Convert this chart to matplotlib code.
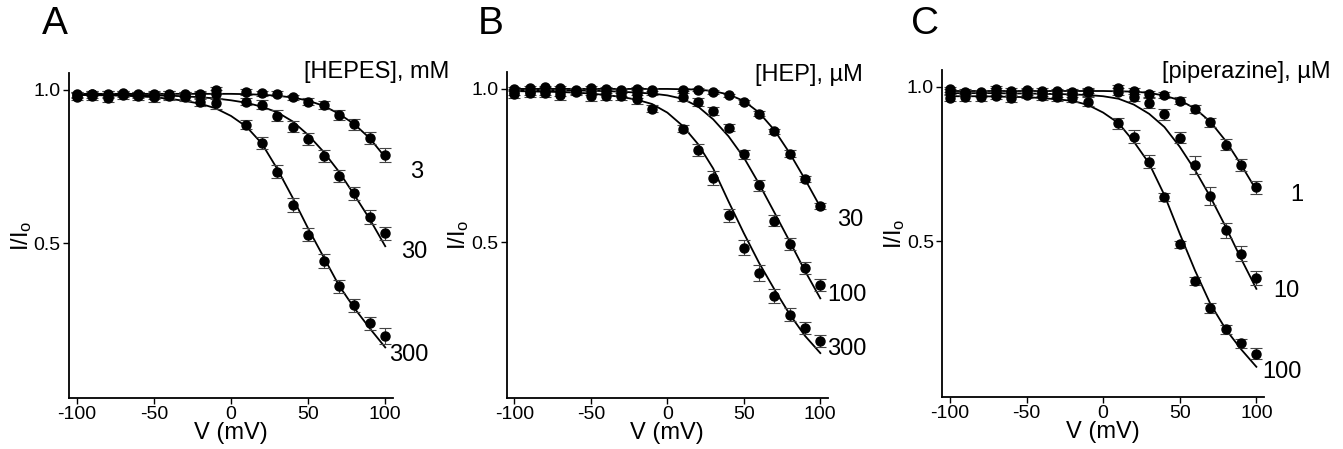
import matplotlib
matplotlib.use("Agg")
import matplotlib.pyplot as plt

plt.rcParams["font.family"] = ["Liberation Sans", "DejaVu Sans"]
plt.rcParams["mathtext.fontset"] = "custom"
plt.rcParams["mathtext.rm"] = "Liberation Sans"
plt.rcParams["mathtext.it"] = "Liberation Sans:italic"
plt.rcParams["axes.unicode_minus"] = False

# measured voltages (no point at 0 mV)
V = [-100, -90, -80, -70, -60, -50, -40, -30, -20, -10,
     10, 20, 30, 40, 50, 60, 70, 80, 90, 100]
# voltages of the fitted curves
V_fit = [-100, -90, -80, -70, -60, -50, -40, -30, -20, -10, 0,
         10, 20, 30, 40, 50, 60, 70, 80, 90, 100]

# panel A, [HEPES] mM
a_labels = ["3", "30", "300"]
a_y = [
    [0.985, 0.988, 0.987, 0.989, 0.985, 0.987, 0.988, 0.986, 0.985, 1.000,
     0.992, 0.989, 0.987, 0.976, 0.962, 0.951, 0.918, 0.888, 0.844, 0.788],
    [0.982, 0.985, 0.984, 0.986, 0.983, 0.982, 0.983, 0.980, 0.982, 0.985,
     0.962, 0.951, 0.916, 0.880, 0.839, 0.784, 0.719, 0.662, 0.586, 0.532],
    [0.978, 0.980, 0.975, 0.982, 0.980, 0.976, 0.979, 0.977, 0.962, 0.957,
     0.886, 0.826, 0.733, 0.624, 0.528, 0.442, 0.359, 0.297, 0.238, 0.197],
]
a_err = [
    [0.008, 0.008, 0.010, 0.008, 0.008, 0.010, 0.008, 0.008, 0.010, 0.010,
     0.010, 0.008, 0.008, 0.008, 0.010, 0.012, 0.015, 0.018, 0.020, 0.022],
    [0.010, 0.010, 0.012, 0.010, 0.010, 0.012, 0.012, 0.012, 0.012, 0.015,
     0.012, 0.015, 0.018, 0.018, 0.020, 0.020, 0.020, 0.022, 0.022, 0.022],
    [0.012, 0.012, 0.015, 0.012, 0.012, 0.015, 0.012, 0.012, 0.015, 0.018,
     0.015, 0.020, 0.022, 0.022, 0.022, 0.022, 0.020, 0.020, 0.020, 0.025],
]
a_fit = [
    [0.987, 0.987, 0.987, 0.987, 0.987, 0.987, 0.987, 0.987, 0.987, 0.987, 0.987,
     0.986, 0.984, 0.981, 0.975, 0.965, 0.948, 0.922, 0.888, 0.842, 0.780],
    [0.984, 0.984, 0.984, 0.983, 0.983, 0.982, 0.981, 0.979, 0.976, 0.972, 0.966,
     0.958, 0.945, 0.927, 0.897, 0.853, 0.798, 0.733, 0.657, 0.578, 0.490],
    [0.983, 0.983, 0.982, 0.981, 0.979, 0.976, 0.971, 0.964, 0.955, 0.940, 0.915,
     0.880, 0.825, 0.742, 0.648, 0.548, 0.455, 0.362, 0.288, 0.222, 0.160],
]

# panel B, [HEP] uM
b_labels = ["30", "100", "300"]
b_y = [
    [0.998, 1.003, 1.004, 1.003, 0.995, 1.002, 1.000, 0.997, 0.999, 0.997,
     0.997, 0.997, 0.989, 0.978, 0.956, 0.919, 0.862, 0.789, 0.706, 0.617],
    [0.990, 0.990, 0.992, 0.988, 0.992, 0.990, 0.990, 0.987, 0.983, 0.990,
     0.973, 0.956, 0.927, 0.873, 0.787, 0.685, 0.570, 0.494, 0.416, 0.362],
    [0.982, 0.985, 0.985, 0.979, 0.990, 0.976, 0.975, 0.975, 0.965, 0.935,
     0.870, 0.800, 0.710, 0.588, 0.483, 0.400, 0.325, 0.265, 0.222, 0.179],
]
b_err = [
    [0.006, 0.006, 0.006, 0.006, 0.006, 0.006, 0.006, 0.006, 0.006, 0.006,
     0.006, 0.006, 0.006, 0.006, 0.006, 0.008, 0.008, 0.010, 0.010, 0.010],
    [0.010, 0.010, 0.012, 0.012, 0.010, 0.012, 0.010, 0.010, 0.012, 0.010,
     0.012, 0.012, 0.012, 0.012, 0.015, 0.018, 0.018, 0.020, 0.020, 0.020],
    [0.012, 0.012, 0.012, 0.015, 0.010, 0.015, 0.012, 0.012, 0.015, 0.012,
     0.012, 0.020, 0.022, 0.022, 0.025, 0.025, 0.022, 0.020, 0.020, 0.020],
]
b_fit = [
    [0.999, 0.999, 0.999, 0.999, 0.999, 0.999, 0.999, 0.999, 0.999, 0.999, 0.999,
     0.998, 0.997, 0.992, 0.981, 0.960, 0.922, 0.865, 0.790, 0.705, 0.615],
    [0.995, 0.995, 0.995, 0.994, 0.994, 0.993, 0.992, 0.990, 0.987, 0.984, 0.978,
     0.967, 0.942, 0.900, 0.845, 0.776, 0.690, 0.597, 0.503, 0.407, 0.318],
    [0.992, 0.991, 0.990, 0.989, 0.987, 0.984, 0.979, 0.973, 0.964, 0.950, 0.922,
     0.879, 0.820, 0.740, 0.633, 0.530, 0.433, 0.347, 0.266, 0.196, 0.140],
]

# panel C, [piperazine] uM
c_labels = ["1", "10", "100"]
c_y = [
    [0.992, 0.985, 0.983, 0.995, 0.988, 0.990, 0.988, 0.987, 0.984, 0.988,
     0.997, 0.986, 0.978, 0.975, 0.956, 0.928, 0.885, 0.812, 0.747, 0.674],
    [0.985, 0.980, 0.978, 0.985, 0.980, 0.985, 0.980, 0.978, 0.978, 0.983,
     0.985, 0.969, 0.948, 0.912, 0.836, 0.747, 0.646, 0.535, 0.459, 0.381],
    [0.965, 0.968, 0.968, 0.972, 0.963, 0.975, 0.970, 0.968, 0.963, 0.952,
     0.883, 0.839, 0.758, 0.643, 0.489, 0.370, 0.283, 0.214, 0.168, 0.135],
]
c_err = [
    [0.008, 0.008, 0.008, 0.008, 0.008, 0.008, 0.008, 0.008, 0.008, 0.008,
     0.010, 0.010, 0.010, 0.010, 0.010, 0.012, 0.015, 0.018, 0.020, 0.022],
    [0.010, 0.010, 0.010, 0.012, 0.010, 0.010, 0.010, 0.010, 0.010, 0.012,
     0.012, 0.015, 0.015, 0.018, 0.018, 0.030, 0.030, 0.025, 0.025, 0.022],
    [0.012, 0.012, 0.012, 0.012, 0.012, 0.012, 0.012, 0.012, 0.012, 0.015,
     0.018, 0.020, 0.020, 0.012, 0.012, 0.012, 0.015, 0.015, 0.015, 0.018],
]
c_fit = [
    [0.987, 0.987, 0.987, 0.987, 0.987, 0.987, 0.987, 0.987, 0.987, 0.987, 0.987,
     0.986, 0.985, 0.981, 0.972, 0.957, 0.930, 0.887, 0.825, 0.748, 0.665],
    [0.980, 0.980, 0.980, 0.980, 0.979, 0.979, 0.978, 0.977, 0.976, 0.974, 0.970,
     0.962, 0.943, 0.913, 0.870, 0.806, 0.730, 0.643, 0.546, 0.443, 0.345],
    [0.970, 0.970, 0.970, 0.969, 0.968, 0.967, 0.964, 0.960, 0.955, 0.942, 0.917,
     0.883, 0.823, 0.752, 0.649, 0.524, 0.404, 0.296, 0.214, 0.149, 0.092],
]

panels = [
    ("A", "[HEPES], mM", a_y, a_err, a_fit, a_labels),
    ("B", "[HEP], µM", b_y, b_err, b_fit, b_labels),
    ("C", "[piperazine], µM", c_y, c_err, c_fit, c_labels),
]

# layout (figure fractions) and text placement in data units
ax_rects = [
    [0.0514, 0.1136, 0.2412, 0.7238],
    [0.3773, 0.1143, 0.2392, 0.7260],
    [0.7016, 0.1165, 0.2396, 0.7275],
]
letter_x = [0.041, 0.365, 0.689]
header_pos = [(47.6, 1.059), (57.3, 1.045), (38.7, 1.050)]
conc_pos = [
    [(116.0, 0.732), (110.3, 0.471), (102.6, 0.134)],
    [(111.1, 0.572), (104.6, 0.330), (104.6, 0.153)],
    [(122.0, 0.649), (111.2, 0.339), (104.0, 0.076)],
]

fig = plt.figure(figsize=(13.43, 4.49), dpi=100)

for i, (letter, header, ys, errs, fits, labels) in enumerate(panels):
    ax = fig.add_axes(ax_rects[i])
    for y, e, f in zip(ys, errs, fits):
        ax.plot(V_fit, f, color="black", lw=1.3, zorder=2)
        ax.errorbar(V, y, yerr=e, fmt="none", ecolor="#444444",
                    elinewidth=0.8, capsize=4.5, capthick=0.8, zorder=3)
        ax.plot(V, y, "o", color="black", ms=6.5, zorder=4)
    for lab, (tx, ty) in zip(labels, conc_pos[i]):
        ax.text(tx, ty, lab, fontsize=17, ha="left", va="center", clip_on=False)
    ax.text(header_pos[i][0], header_pos[i][1], header, fontsize=17,
            ha="left", va="center", clip_on=False)

    ax.set_xlim(-105, 105)
    ax.set_ylim(-0.005, 1.055)
    ax.set_xticks([-100, -50, 0, 50, 100])
    ax.set_yticks([0.5, 1.0])
    ax.set_yticklabels(["0.5", "1.0"])
    ax.spines["top"].set_visible(False)
    ax.spines["right"].set_visible(False)
    ax.spines["left"].set_linewidth(1.3)
    ax.spines["bottom"].set_linewidth(1.3)
    ax.tick_params(direction="out", length=4, width=1.0, labelsize=14, pad=2)
    ax.set_xlabel("V (mV)", fontsize=17, labelpad=-1)
    ax.set_ylabel(r"I/I$_\mathrm{o}$", fontsize=17, labelpad=0)

    fig.text(letter_x[i], 0.947, letter, fontsize=28, ha="center", va="center")

fig.savefig("out.png", dpi=100)
